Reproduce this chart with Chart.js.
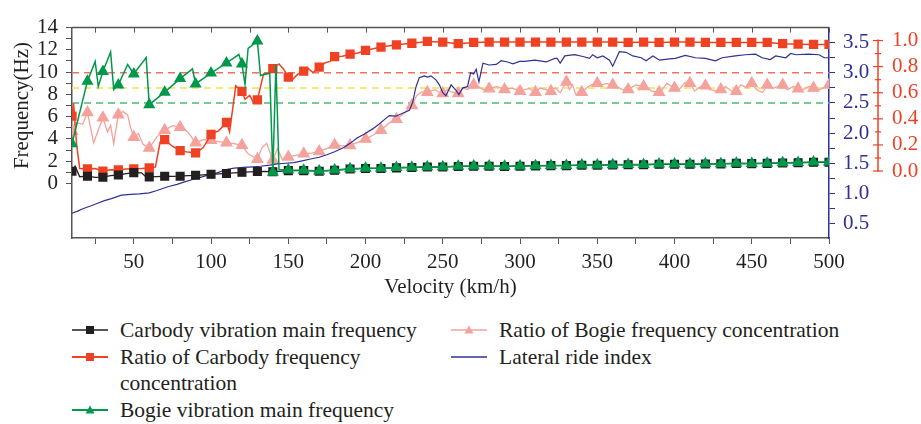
<!DOCTYPE html>
<html><head><meta charset="utf-8">
<script src="https://cdn.jsdelivr.net/npm/chart.js@4.4.1/dist/chart.umd.min.js"></script>
<style>
html,body{margin:0;padding:0;background:#fff;width:921px;height:424px;overflow:hidden;}
#wrap{position:relative;width:921px;height:424px;}
#c{position:absolute;left:0;top:0;}
.lg{position:absolute;font-family:"Liberation Serif",serif;font-size:21.5px;line-height:26px;color:#231f20;display:flex;align-items:flex-start;}
.lg svg{flex:none;}
.lg span{margin-left:12px;}
</style></head><body>
<div id="wrap"><canvas id="c" width="921" height="300"></canvas><div id="legend"></div></div>
<script>
// ---- data ----
const carbodyFreqX = [10,12,15,20,25,30,35,40,45,50,55,58,60,65,70,75,80,85,90,95,100,105,110,115,120,125,130,135,140,150,160,170,180,190,200,210,220,230,240,250,260,270,280,290,300,310,320,330,340,350,360,370,380,390,400,410,420,430,440,450,460,470,480,490,500];
const carbodyFreqY = [1.1,1.55,0.6,0.65,0.55,0.56,0.7,0.76,0.88,0.97,0.95,0.58,0.59,0.62,0.65,0.63,0.65,0.7,0.73,0.77,0.82,0.86,0.9,0.95,1.0,1.04,1.07,1.09,1.05,1.15,1.15,1.1,1.18,1.3,1.35,1.35,1.4,1.43,1.48,1.48,1.53,1.55,1.55,1.53,1.55,1.58,1.6,1.6,1.64,1.64,1.66,1.68,1.68,1.72,1.72,1.72,1.74,1.76,1.8,1.78,1.8,1.84,1.86,1.9,1.9];

const carbodyRatioX = [10,11,13,15,20,25,30,35,40,45,50,55,60,64,67,70,75,80,85,90,95,100,105,110,112,116,120,122,125,127,130,134,137,140,144,147,150,153,156,160,163,166,170,174,177,180,185,190,195,200,210,220,230,240,250,260,270,280,290,300,310,320,330,340,350,360,370,380,390,400,410,420,430,440,450,460,470,480,490,500];
const carbodyRatioY = [0.42,0.52,0.2,0.02,0.017,0.02,0.0,0.01,0.008,0.015,0.017,0.02,0.025,0.03,0.22,0.24,0.19,0.156,0.145,0.139,0.18,0.28,0.31,0.372,0.3,0.653,0.61,0.55,0.58,0.535,0.545,0.745,0.75,0.785,0.82,0.78,0.72,0.705,0.74,0.765,0.785,0.755,0.797,0.83,0.84,0.876,0.88,0.895,0.905,0.924,0.95,0.967,0.979,0.993,0.988,0.976,0.985,0.988,0.988,0.988,0.988,0.988,0.988,0.988,0.988,0.988,0.985,0.988,0.985,0.988,0.988,0.985,0.985,0.985,0.985,0.985,0.976,0.972,0.97,0.97];

const bogieFreqX = [10,20,25,27,30,35,37,40,46,50,58,60,70,80,88,90,100,110,118,120,122,124,130,132,138,140,142,144,150,160,170,180,190,200,210,220,230,240,250,260,270,280,290,300,310,320,330,340,350,360,370,380,390,400,410,420,430,440,450,460,470,480,490,500];
const bogieFreqY = [3.57,9.19,10.96,8.71,10.06,11.8,8.43,8.85,10.68,9.84,11.3,7.08,8.2,9.42,10.3,8.94,9.92,10.82,11.58,10.74,8.9,12.14,12.79,9.7,9.9,1.0,10.7,1.25,1.21,1.18,1.12,1.21,1.32,1.37,1.37,1.43,1.45,1.5,1.5,1.55,1.57,1.57,1.55,1.57,1.6,1.62,1.62,1.66,1.66,1.68,1.7,1.7,1.74,1.74,1.74,1.76,1.78,1.82,1.8,1.82,1.86,1.88,1.92,1.92];

const bogieRatioX = [10,12,17,20,24,30,33,35,37,40,43,46,48,50,53,56,60,65,70,75,80,85,90,95,100,105,110,115,120,124,130,133,136,140,143,146,150,155,160,165,170,175,180,185,190,195,200,205,210,215,220,225,230,233,236,240,245,248,250,253,256,260,263,266,270,273,276,280,285,290,295,300,303,306,310,313,320,323,326,330,332,334,336,340,343,346,350,353,356,360,363,366,370,375,380,383,385,390,392,395,400,403,407,410,413,417,420,423,427,430,433,437,440,443,447,450,453,457,460,464,467,470,473,477,480,483,487,490,494,500];
const bogieRatioY = [0.305,0.372,0.36,0.449,0.216,0.408,0.30,0.35,0.21,0.432,0.456,0.43,0.33,0.259,0.288,0.204,0.176,0.264,0.312,0.348,0.335,0.30,0.216,0.24,0.235,0.225,0.216,0.21,0.197,0.132,0.091,0.18,0.212,0.084,0.173,0.09,0.108,0.12,0.132,0.138,0.149,0.173,0.2,0.193,0.196,0.22,0.245,0.276,0.312,0.365,0.396,0.444,0.503,0.576,0.604,0.604,0.624,0.6,0.595,0.624,0.604,0.595,0.636,0.624,0.66,0.648,0.624,0.631,0.648,0.624,0.636,0.612,0.624,0.632,0.604,0.636,0.612,0.636,0.6,0.683,0.624,0.66,0.588,0.604,0.636,0.66,0.672,0.66,0.672,0.66,0.648,0.624,0.624,0.66,0.648,0.636,0.612,0.604,0.624,0.672,0.636,0.624,0.68,0.672,0.612,0.648,0.653,0.624,0.612,0.624,0.648,0.612,0.612,0.66,0.636,0.672,0.624,0.6,0.66,0.636,0.648,0.66,0.624,0.648,0.63,0.624,0.648,0.636,0.624,0.66];

const rideIndexX = [10,14,17.4,22,27,31,35.5,42,48,53.7,60,64.5,72,78,82.8,88,93.6,99,104.3,110.5,115,121,127,132,138,142.9,148,153.6,159,164.4,170,175,180,185.9,190,194.5,199,204.6,208.9,212,215.4,219.7,224,228.4,230.5,232.7,234.8,238,240.3,242.4,245.7,247.8,250,252,255.4,258.6,260.4,263,266,268,270,271.6,273.4,276,280,284.6,287.8,292,295.4,299.7,303,309.6,317,322.5,324,326,329,335.3,340.7,345,347,350,353.6,357.9,360,364.3,368.6,373,378.4,381.6,386,390.4,396.8,400.5,407,413.5,420,426.5,430.8,439.4,445.9,452.4,456.7,462,465.5,472,475.2,478.5,487,493.6,496.9,500];
const rideIndexY = [0.67,0.71,0.75,0.79,0.84,0.88,0.914,0.972,0.985,0.992,1.01,1.044,1.11,1.15,1.19,1.23,1.27,1.31,1.345,1.4,1.42,1.43,1.44,1.45,1.47,1.49,1.5,1.51,1.54,1.57,1.6,1.64,1.69,1.76,1.83,1.92,1.98,2.07,2.15,2.22,2.29,2.28,2.33,2.38,2.51,2.77,2.92,2.95,2.93,2.95,2.88,2.8,2.67,2.62,2.8,2.71,2.64,2.75,2.77,3.0,2.98,3.06,2.85,3.16,3.13,3.14,3.2,3.18,3.15,3.19,3.19,3.21,3.18,3.24,3.24,3.16,3.28,3.3,3.27,3.24,3.3,3.25,3.28,3.21,3.11,3.35,3.34,3.28,3.25,3.2,3.28,3.21,3.23,3.24,3.29,3.25,3.24,3.2,3.25,3.28,3.3,3.31,3.25,3.22,3.28,3.25,3.32,3.3,3.31,3.3,3.25,3.25];

const thresholdLevels = [3.0, 2.75, 2.5];
const xRange = [10, 500];
const seriesNames = ['Carbody vibration main frequency','Ratio of Carbody frequency concentration','Bogie vibration main frequency','Ratio of Bogie frequency concentration','Lateral ride index'];

// ---- styles ----
const FONT = '"Liberation Serif", serif';
const C_BLACK = '#231f20', C_RED = '#ef4123', C_GREEN = '#00984a', C_PINK = '#f5a29c', C_NAVY = '#2e3192', C_AXIS = '#555555';
const thresholdColors = ['#f2705f', '#ece35a', '#4cbb72'];

const pts = (xs, ys) => xs.map((x, i) => ({x: x, y: ys[i]}));
const markerR = r => ctx => (ctx.raw && Math.abs(ctx.raw.x % 10) < 1e-9) ? r : 0;

const datasets = [
  {label: seriesNames[2], data: pts(bogieFreqX, bogieFreqY), yAxisID: 'yL', borderColor: C_GREEN, backgroundColor: C_GREEN, borderWidth: 1.5, pointStyle: 'triangle', pointRadius: markerR(5.5), order: 0, legend: {left: 72, top: 397, width: 340}},
  {label: seriesNames[0], data: pts(carbodyFreqX, carbodyFreqY), yAxisID: 'yL', borderColor: C_BLACK, backgroundColor: C_BLACK, borderWidth: 1.3, pointStyle: 'rect', pointRadius: markerR(5.5), order: 1, legend: {left: 72, top: 317, width: 340}},
  {label: seriesNames[1], data: pts(carbodyRatioX, carbodyRatioY), yAxisID: 'yR', borderColor: C_RED, backgroundColor: C_RED, borderWidth: 1.5, pointStyle: 'rect', pointRadius: markerR(5.5), order: 2, legend: {left: 72, top: 344, width: 300}},
  {label: seriesNames[4], data: pts(rideIndexX, rideIndexY), yAxisID: 'yN', borderColor: C_NAVY, backgroundColor: C_NAVY, borderWidth: 1.2, pointRadius: 0, order: 3, legend: {left: 451, top: 344, width: 420}},
  {label: seriesNames[3], data: pts(bogieRatioX, bogieRatioY), yAxisID: 'yR', borderColor: C_PINK, backgroundColor: C_PINK, borderWidth: 1.3, pointStyle: 'triangle', pointRadius: markerR(6.2), order: 4, legend: {left: 451, top: 317, width: 420}},
];
thresholdLevels.forEach((lv, i) => datasets.push({
  label: 'thr' + i, data: [{x: xRange[0], y: lv}, {x: xRange[1], y: lv}], yAxisID: 'yN',
  borderColor: thresholdColors[i], borderWidth: 1.5, borderDash: [7, 5], pointRadius: 0, order: 5
}));

const rangeTicks = (a, b, step) => { const out = []; for (let v = a; v <= b + 1e-9; v += step) out.push({value: Math.round(v * 1000) / 1000}); return out; };

const framePlugin = {
  id: 'frame',
  afterDraw(chart) {
    const {ctx, chartArea: a, scales} = chart;
    const xs = scales.x, yL = scales.yL, yR = scales.yR;
    ctx.save();
    ctx.strokeStyle = C_AXIS; ctx.lineWidth = 1.5;
    ctx.beginPath(); ctx.moveTo(a.left, a.top); ctx.lineTo(a.right, a.top); ctx.stroke();
    ctx.lineWidth = 1;
    xs.ticks.forEach(t => { const px = Math.round(xs.getPixelForValue(t.value)) + 0.5; ctx.beginPath(); ctx.moveTo(px, a.top); ctx.lineTo(px, a.top + 5); ctx.stroke(); });
    // red ratio axis: line from 0 to 1 with crossing ticks
    const rx = yR.left + 1;
    ctx.strokeStyle = C_RED; ctx.lineWidth = 1.5;
    ctx.beginPath(); ctx.moveTo(rx, yR.getPixelForValue(1) - 1); ctx.lineTo(rx, yR.getPixelForValue(0) + 1); ctx.stroke();
    ctx.lineWidth = 1.2;
    for (let i = 0; i <= 10; i++) {
      const py = yR.getPixelForValue(i / 10); const len = i % 2 === 0 ? 5 : 3;
      ctx.beginPath(); ctx.moveTo(rx - len, py); ctx.lineTo(rx + len, py); ctx.stroke();
    }
    // left axis title centred on the 0-14 range
    ctx.translate(22, yL.getPixelForValue(7)); ctx.rotate(-Math.PI / 2);
    ctx.font = '21px ' + FONT; ctx.fillStyle = C_BLACK; ctx.textAlign = 'center'; ctx.textBaseline = 'middle';
    ctx.fillText('Frequency(Hz)', 0, 0);
    ctx.restore();
  }
};

const tickFont = {family: FONT, size: 21};
const chart = new Chart(document.getElementById('c'), {
  type: 'line',
  data: {datasets: datasets},
  options: {
    responsive: false, animation: false, devicePixelRatio: 1,
    layout: {padding: {top: 14, left: 0, right: 0, bottom: 0}},
    plugins: {legend: {display: false}, tooltip: {enabled: false}},
    elements: {line: {tension: 0}},
    scales: {
      x: {
        type: 'linear', position: 'bottom', min: xRange[0], max: xRange[1],
        afterBuildTicks: s => { s.ticks = rangeTicks(25, 500, 25); },
        afterFit: s => { s.height = 62; },
        ticks: {autoSkip: false, maxRotation: 0, padding: 6, color: C_BLACK, font: tickFont, callback: v => (v % 50 === 0 ? String(v) : '')},
        grid: {drawOnChartArea: false, drawTicks: true, tickLength: 6, color: C_AXIS},
        border: {color: C_AXIS, width: 1.5},
        title: {display: true, text: 'Velocity (km/h)', color: C_BLACK, font: tickFont, padding: 0}
      },
      yL: {
        type: 'linear', position: 'left', min: -4.9, max: 14,
        afterBuildTicks: s => { s.ticks = rangeTicks(0, 14, 1); },
        afterFit: s => { s.width = 72; },
        ticks: {autoSkip: false, padding: 8, color: C_BLACK, font: tickFont, callback: v => (v % 2 === 0 ? String(v) : '')},
        grid: {drawOnChartArea: false, drawTicks: true, tickLength: 6, color: C_AXIS},
        border: {color: C_AXIS, width: 1.5}
      },
      yN: {
        type: 'linear', position: 'right', min: 0.26, max: 3.75, weight: 0,
        afterBuildTicks: s => { s.ticks = rangeTicks(0.5, 3.5, 0.25); },
        afterFit: s => { s.width = 48; },
        ticks: {autoSkip: false, padding: 8, color: C_NAVY, font: tickFont, callback: v => (Math.abs(v * 2 - Math.round(v * 2)) < 1e-6 ? v.toFixed(1) : '')},
        grid: {drawOnChartArea: false, drawTicks: true, tickLength: 6, color: C_NAVY},
        border: {color: C_NAVY, width: 1.5}
      },
      yR: {
        type: 'linear', position: 'right', min: -0.513, max: 1.099, weight: 1,
        afterBuildTicks: s => { s.ticks = rangeTicks(0, 1, 0.2); },
        afterFit: s => { s.width = 44; },
        ticks: {autoSkip: false, padding: 15, color: C_RED, font: tickFont, callback: v => v.toFixed(1)},
        grid: {drawOnChartArea: false, drawTicks: false},
        border: {display: false}
      }
    }
  },
  plugins: [framePlugin]
});

// ---- HTML legend built from the chart's datasets ----
const legendEl = document.getElementById('legend');
chart.data.datasets.filter(d => d.legend).forEach(d => {
  const item = document.createElement('div');
  item.className = 'lg';
  item.style.left = d.legend.left + 'px';
  item.style.top = d.legend.top + 'px';
  let marker = '';
  if (d.pointStyle === 'rect') marker = `<rect x="14" y="9" width="8" height="8" fill="${d.borderColor}"/>`;
  else if (d.pointStyle === 'triangle') marker = `<polygon points="18,8.5 22.5,16.5 13.5,16.5" fill="${d.borderColor}"/>`;
  item.innerHTML = `<svg width="36" height="26"><line x1="0" y1="13" x2="36" y2="13" stroke="${d.borderColor}" stroke-width="${d.borderWidth + 0.3}"/>${marker}</svg><span style="width:${d.legend.width}px">${d.label}</span>`;
  legendEl.appendChild(item);
});
</script>
</body></html>
